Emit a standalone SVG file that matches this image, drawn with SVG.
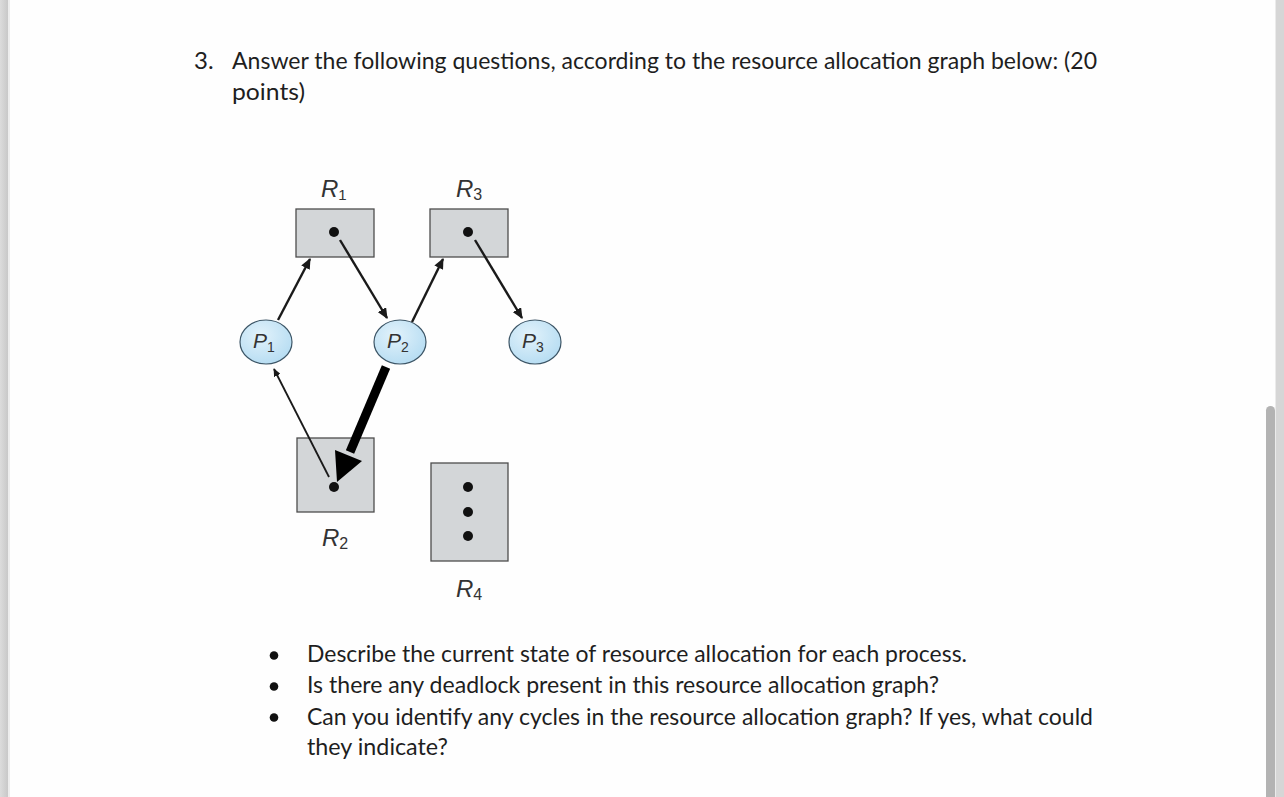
<svg xmlns="http://www.w3.org/2000/svg" width="1284" height="797" viewBox="0 0 1284 797">
<style>
.t{font-family:Lato,"Open Sans","Liberation Sans",sans-serif;font-size:24px;fill:#1e1e1e}
.lbl{font-family:"Liberation Sans",Arial,sans-serif;font-style:italic;fill:#333}
.res{fill:#d3d6d8;stroke:#4d4d4d;stroke-width:1.3}
.proc{fill:url(#pg);stroke:#3c5566;stroke-width:1.2}
.e{stroke:#1a1a1a;stroke-width:2.4;fill:none;marker-end:url(#ah)}
.dot{fill:#111}
</style>
<defs>
<radialGradient id="pg" cx="0.4" cy="0.35" r="0.7">
<stop offset="0" stop-color="#e2f2fb"/>
<stop offset="1" stop-color="#b5dcf2"/>
</radialGradient>
<marker id="ah" viewBox="0 0 10 10" refX="9" refY="5" markerWidth="4.5" markerHeight="4" orient="auto" markerUnits="strokeWidth" preserveAspectRatio="none">
<path d="M0,0 L10,5 L0,10 z" fill="#1a1a1a"/>
</marker>
<linearGradient id="lg" x1="0" x2="1" y1="0" y2="0">
<stop offset="0" stop-color="#dcdcdc"/>
<stop offset="1" stop-color="#c8c8c8"/>
</linearGradient>
</defs>
<rect width="1284" height="797" fill="#fefefe"/>
<rect x="0" y="0" width="8" height="797" fill="url(#lg)"/>
<rect x="8" y="0" width="2" height="797" fill="#ededed"/>
<rect x="1276" y="0" width="8" height="797" fill="#d6d6d6"/>
<rect x="1275" y="0" width="1" height="797" fill="#ebebeb"/>
<rect x="1266" y="406" width="9" height="400" rx="4.5" fill="#b3b3b3"/>

<g id="question">
<text class="t" x="194" y="69">3.</text>
<text class="t" x="232" y="69" textLength="865" lengthAdjust="spacingAndGlyphs">Answer the following questions, according to the resource allocation graph below: (20</text>
<text class="t" x="232" y="100" textLength="73" lengthAdjust="spacingAndGlyphs">points)</text>
</g>

<g id="R1">
<rect class="res" x="296" y="209" width="78" height="48"/>
<circle class="dot" cx="334" cy="232" r="5"/>
<text class="lbl" x="321" y="197" font-size="24">R<tspan font-size="15" font-style="normal" dy="3">1</tspan></text>
</g>
<g id="R3">
<rect class="res" x="430" y="209" width="78" height="48"/>
<circle class="dot" cx="468" cy="232" r="5"/>
<text class="lbl" x="456" y="197" font-size="24">R<tspan font-size="16" font-style="normal" dy="3">3</tspan></text>
</g>
<g id="R2">
<rect class="res" x="297" y="438" width="77" height="74"/>
<circle class="dot" cx="334" cy="487" r="5"/>
<text class="lbl" x="322" y="546" font-size="24">R<tspan font-size="16" font-style="normal" dy="3">2</tspan></text>
</g>
<g id="R4">
<rect class="res" x="431" y="463" width="77" height="98"/>
<circle class="dot" cx="468" cy="487" r="5"/>
<circle class="dot" cx="468" cy="512" r="5"/>
<circle class="dot" cx="468" cy="536" r="5"/>
<text class="lbl" x="456" y="597" font-size="24">R<tspan font-size="16" font-style="normal" dy="3">4</tspan></text>
</g>

<g id="P1">
<ellipse class="proc" cx="266" cy="342" rx="26" ry="22"/>
<text class="lbl" x="253" y="348" font-size="21">P<tspan font-size="14" font-style="normal" dy="4">1</tspan></text>
</g>
<g id="P2">
<ellipse class="proc" cx="400" cy="342" rx="26" ry="22"/>
<text class="lbl" x="387" y="348" font-size="21">P<tspan font-size="14" font-style="normal" dy="4">2</tspan></text>
</g>
<g id="P3">
<ellipse class="proc" cx="535" cy="342" rx="26" ry="22"/>
<text class="lbl" x="522" y="348" font-size="21">P<tspan font-size="14" font-style="normal" dy="4">3</tspan></text>
</g>

<g id="connectors">
<line class="e" x1="278" y1="320" x2="310" y2="259"/>
<line class="e" x1="340" y1="240" x2="387" y2="318"/>
<line class="e" x1="412" y1="322" x2="443" y2="259"/>
<line class="e" x1="475" y1="240" x2="522" y2="318"/>
<line x1="329" y1="477" x2="274" y2="369" stroke="#1a1a1a" stroke-width="1.8" marker-end="url(#ah)"/>
<line x1="386" y1="367" x2="350" y2="452" stroke="#000" stroke-width="9"/>
<polygon points="337,482 335,450 362,461" fill="#000"/>
</g>

<g id="bullets">
<circle cx="274" cy="655.5" r="4.3" fill="#111"/>
<circle cx="274" cy="686.5" r="4.3" fill="#111"/>
<circle cx="274" cy="717.5" r="4.3" fill="#111"/>
<text class="t" x="307" y="662" textLength="660" lengthAdjust="spacingAndGlyphs">Describe the current state of resource allocation for each process.</text>
<text class="t" x="307" y="693" textLength="632" lengthAdjust="spacingAndGlyphs">Is there any deadlock present in this resource allocation graph?</text>
<text class="t" x="307" y="725" textLength="786" lengthAdjust="spacingAndGlyphs">Can you identify any cycles in the resource allocation graph? If yes, what could</text>
<text class="t" x="307" y="755" textLength="141" lengthAdjust="spacingAndGlyphs">they indicate?</text>
</g>
</svg>
